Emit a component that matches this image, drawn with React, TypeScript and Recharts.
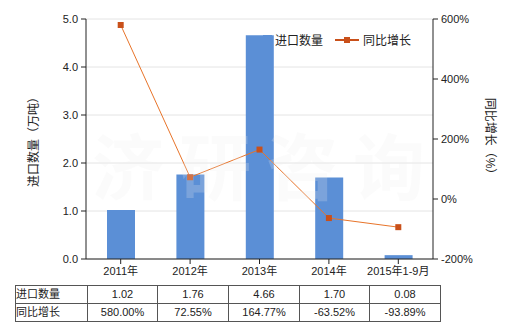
import React from "react";
import { ComposedChart, Bar, Line, XAxis, YAxis, CartesianGrid } from "recharts";

const categories = ["2011年", "2012年", "2013年", "2014年", "2015年1-9月"];
const volumes = [1.02, 1.76, 4.66, 1.7, 0.08];
const growth = [580.0, 72.55, 164.77, -63.52, -93.89];
const volumeTicks = [0, 1, 2, 3, 4, 5];
const growthTicks = [-200, 0, 200, 400, 600];
const watermark = ["济", "研", "咨", "询"];

const FONT = '"Liberation Sans", "Noto Sans CJK SC", sans-serif';
const BAR = "#5b8fd6";
const LINE = "#e8742a";
const MARK = "#c9501a";

const chartData = categories.map((name, i) => ({ name, volume: volumes[i], growth: growth[i] }));

function SquareDot(props: any) {
  const { cx, cy } = props;
  if (cx == null || cy == null) return null;
  return <rect x={cx - 3} y={cy - 3} width={6} height={6} fill={MARK} />;
}

function LegendBox() {
  return (
    <div
      style={{
        position: "absolute",
        left: 263,
        top: 31,
        display: "flex",
        alignItems: "center",
        fontFamily: FONT,
        fontSize: 12,
        color: "#222",
      }}
    >
      <span style={{ display: "inline-block", width: 9, height: 9, background: BAR, marginRight: 3 }} />
      <span style={{ marginRight: 12 }}>进口数量</span>
      <svg width={24} height={8} style={{ marginRight: 4 }}>
        <line x1={0} y1={4} x2={24} y2={4} stroke={MARK} strokeWidth={2} />
        <rect x={9} y={1} width={6} height={6} fill={MARK} />
      </svg>
      <span>同比增长</span>
    </div>
  );
}

const colWidths = [71, 69, 70, 70, 69, 70];

export default function App() {
  const cell = (w: number, align: "left" | "center"): React.CSSProperties => ({
    width: w,
    height: 17,
    border: "1px solid #555",
    padding: 0,
    textAlign: align,
    fontSize: 11,
    lineHeight: "17px",
  });
  return (
    <div style={{ position: "absolute", left: 0, top: 0, width: 520, height: 330, background: "#fff" }}>
      <ComposedChart
        width={520}
        height={330}
        data={chartData}
        margin={{ top: 19, right: 0, bottom: 41, left: 0 }}
        style={{ fontFamily: FONT }}
      >
        <CartesianGrid vertical={false} stroke="#e4e4e4" yAxisId="left" />
        <XAxis
          dataKey="name"
          height={30}
          tickSize={5}
          tickMargin={3}
          stroke="#222"
          tick={{ fill: "#222", fontSize: 11 }}
          interval={0}
        />
        <YAxis
          yAxisId="left"
          width={86}
          domain={[0, 5]}
          ticks={volumeTicks}
          tickFormatter={(v: number) => v.toFixed(1)}
          tickSize={5}
          tickMargin={3}
          stroke="#222"
          tick={{ fill: "#222", fontSize: 11 }}
          label={{ value: "进口数量（万吨）", angle: -90, position: "insideLeft", offset: 34, style: { fill: "#222", fontSize: 12, textAnchor: "middle" } }}
        />
        <YAxis
          yAxisId="right"
          orientation="right"
          width={87}
          domain={[-200, 600]}
          ticks={growthTicks}
          tickFormatter={(v: number) => `${v}%`}
          tickSize={5}
          tickMargin={3}
          stroke="#222"
          tick={{ fill: "#222", fontSize: 11 }}
          label={{ value: "同比增长（%）", angle: 90, position: "insideRight", offset: 30, style: { fill: "#222", fontSize: 12, textAnchor: "middle" } }}
        />
        <Bar yAxisId="left" dataKey="volume" fill={BAR} barSize={28} isAnimationActive={false} />
        <Line
          yAxisId="right"
          dataKey="growth"
          type="linear"
          stroke={LINE}
          strokeWidth={1}
          dot={<SquareDot />}
          activeDot={false}
          isAnimationActive={false}
        />
      </ComposedChart>
      <LegendBox />
      {watermark.map((ch, i) => (
        <div
          key={ch}
          style={{
            position: "absolute",
            left: 92 + i * 87,
            top: 118,
            fontSize: 72,
            fontWeight: "bold",
            fontFamily: '"Noto Sans CJK SC", sans-serif',
            color: "rgba(235,235,235,0.22)",
            lineHeight: "90px",
            pointerEvents: "none",
          }}
        >
          {ch}
        </div>
      ))}
      <table
        style={{
          position: "absolute",
          left: 15,
          top: 285,
          borderCollapse: "collapse",
          fontFamily: FONT,
          color: "#222",
          tableLayout: "fixed",
        }}
      >
        <tbody>
          <tr>
            <td style={cell(colWidths[0], "left")}>进口数量</td>
            {volumes.map((v, i) => (
              <td key={i} style={cell(colWidths[i + 1], "center")}>{v.toFixed(2)}</td>
            ))}
          </tr>
          <tr>
            <td style={cell(colWidths[0], "left")}>同比增长</td>
            {growth.map((v, i) => (
              <td key={i} style={cell(colWidths[i + 1], "center")}>{v.toFixed(2)}%</td>
            ))}
          </tr>
        </tbody>
      </table>
    </div>
  );
}
